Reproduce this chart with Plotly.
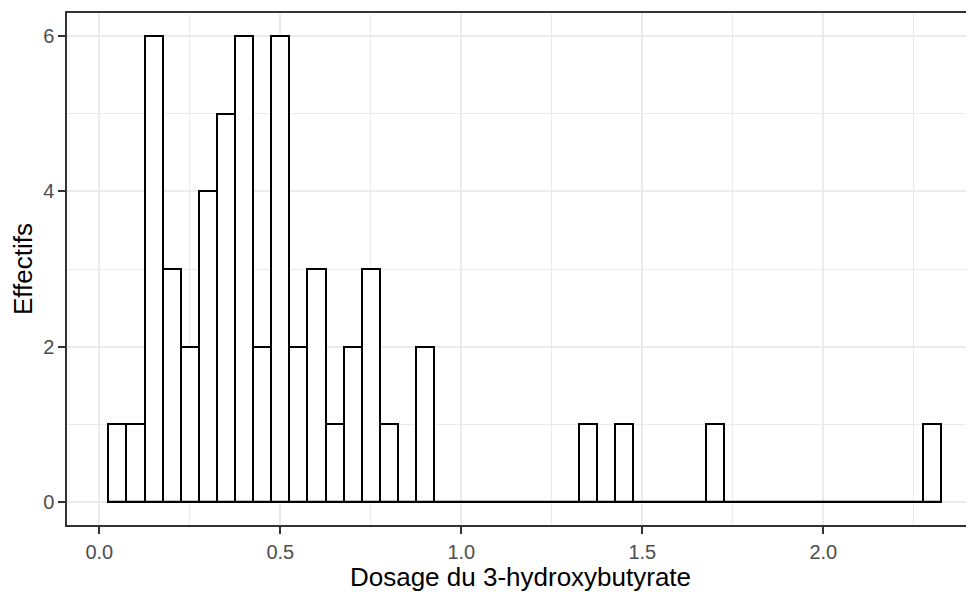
import plotly.graph_objects as go

# Histogram bins (centres, width 0.05) and counts
bin_centers = [0.05, 0.10, 0.15, 0.20, 0.25, 0.30, 0.35, 0.40, 0.45, 0.50,
               0.55, 0.60, 0.65, 0.70, 0.75, 0.80, 0.85, 0.90, 0.95, 1.00,
               1.05, 1.10, 1.15, 1.20, 1.25, 1.30, 1.35, 1.40, 1.45, 1.50,
               1.55, 1.60, 1.65, 1.70, 1.75, 1.80, 1.85, 1.90, 1.95, 2.00,
               2.05, 2.10, 2.15, 2.20, 2.25, 2.30]
counts = [1, 1, 6, 3, 2, 4, 5, 6, 2, 6,
          2, 3, 1, 2, 3, 1, 0, 2, 0, 0,
          0, 0, 0, 0, 0, 0, 1, 0, 1, 0,
          0, 0, 0, 1, 0, 0, 0, 0, 0, 0,
          0, 0, 0, 0, 0, 1]
bin_width = 0.05
x_ticks = [0.0, 0.5, 1.0, 1.5, 2.0]
y_ticks = [0, 2, 4, 6]
x_title = "Dosage du 3-hydroxybutyrate"
y_title = "Effectifs"

FONT = "Liberation Sans, Arial, sans-serif"
GRID = "#EBEBEB"
DARK = "#333333"

fig = go.Figure()
fig.add_trace(go.Bar(
    x=bin_centers, y=counts, width=[bin_width] * len(bin_centers),
    marker=dict(color="white", line=dict(color="black", width=2)),
    hoverinfo="x+y", showlegend=False,
))
# zero-height bins drawn as outline at the baseline (as ggplot does)
edge_lo = bin_centers[0] - bin_width / 2
edge_hi = bin_centers[-1] + bin_width / 2
fig.add_trace(go.Scatter(
    x=[edge_lo, edge_hi], y=[0, 0], mode="lines",
    line=dict(color="black", width=2), hoverinfo="skip", showlegend=False,
))

# the page body has an 8px margin, so the figure is 8px smaller and shifted
fig.update_layout(
    width=966, height=584,
    margin=dict(l=59, r=0, t=5, b=67),
    paper_bgcolor="white", plot_bgcolor="white",
    bargap=0,
    font=dict(family=FONT, color="black"),
    xaxis=dict(
        range=[-0.0893, 2.4163], tickvals=x_ticks, tickformat=".1f",
        showgrid=True, gridcolor=GRID, gridwidth=2,
        minor=dict(dtick=0.25, tick0=0, showgrid=True, gridcolor=GRID, gridwidth=1, ticks=""),
        zeroline=False,
        showline=True, linecolor=DARK, linewidth=1.5, mirror=True,
        ticks="outside", ticklen=7, tickwidth=1.5, tickcolor=DARK,
        ticklabelstandoff=1,
        tickfont=dict(size=20, color="#4D4D4D", family=FONT),
        title=dict(text=x_title, font=dict(size=26, color="black", family=FONT), standoff=7),
    ),
    yaxis=dict(
        range=[-0.3, 6.3], tickvals=y_ticks,
        showgrid=True, gridcolor=GRID, gridwidth=2,
        minor=dict(dtick=1, tick0=0, showgrid=True, gridcolor=GRID, gridwidth=1, ticks=""),
        zeroline=False,
        showline=True, linecolor=DARK, linewidth=1.5, mirror=False,
        ticks="outside", ticklen=7, tickwidth=1.5, tickcolor=DARK,
        tickfont=dict(size=20, color="#4D4D4D", family=FONT),
        title=dict(text=y_title, font=dict(size=26, color="black", family=FONT), standoff=4),
    ),
)

fig.write_html("out.html")
